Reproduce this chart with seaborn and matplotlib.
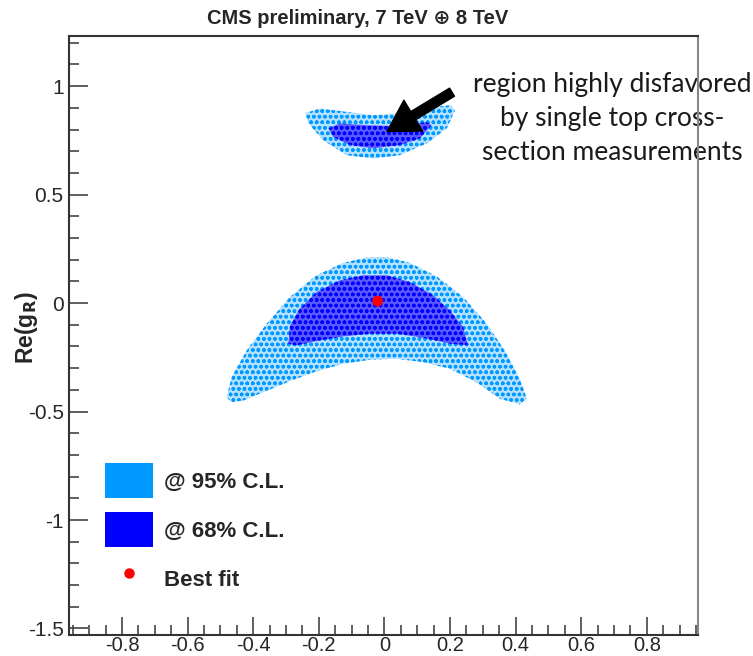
import numpy as np
import pandas as pd
import matplotlib
matplotlib.use("Agg")
import matplotlib.pyplot as plt
import seaborn as sns
from matplotlib.patches import Patch
from matplotlib.lines import Line2D
from matplotlib.ticker import MultipleLocator

# ---- contour boundaries in the (x, Re(gR)) plane ----
# 95% C.L. region around the best fit
main95_x = [-0.481, -0.466, -0.420, -0.359, -0.288, -0.207, -0.126, -0.054, 0.007,
            0.078, 0.159, 0.240, 0.312, 0.373, 0.413, 0.434, 0.413, 0.352, 0.281,
            0.200, 0.118, 0.037, -0.044, -0.126, -0.207, -0.288, -0.370, -0.430, -0.466]
main95_y = [-0.434, -0.341, -0.218, -0.095, 0.028, 0.128, 0.185, 0.210, 0.212,
            0.185, 0.123, 0.028, -0.095, -0.234, -0.349, -0.441, -0.467, -0.441, -0.365,
            -0.303, -0.272, -0.257, -0.261, -0.280, -0.314, -0.360, -0.411, -0.449, -0.457]

# 68% C.L. region around the best fit
main68_x = [-0.293, -0.288, -0.258, -0.207, -0.136, -0.065, 0.007, 0.078, 0.149,
            0.200, 0.240, 0.255, 0.200, 0.118, 0.037, -0.044, -0.126, -0.207, -0.268]
main68_y = [-0.187, -0.103, -0.026, 0.051, 0.105, 0.128, 0.128, 0.097, 0.036,
            -0.034, -0.111, -0.195, -0.187, -0.160, -0.141, -0.141, -0.154, -0.175, -0.195]

# secondary (disfavored) island
upper95_x = [-0.242, -0.197, -0.115, -0.034, 0.047, 0.118, 0.200, 0.215, 0.190,
             0.129, 0.047, -0.034, -0.115, -0.187, -0.232]
upper95_y = [0.875, 0.897, 0.881, 0.866, 0.875, 0.897, 0.912, 0.889, 0.805,
             0.736, 0.682, 0.666, 0.682, 0.751, 0.828]

upper68_x = [-0.171, -0.136, -0.054, 0.047, 0.129, 0.144, 0.108, 0.047, -0.034, -0.105, -0.156]
upper68_y = [0.805, 0.828, 0.820, 0.815, 0.835, 0.820, 0.759, 0.728, 0.713, 0.728, 0.766]

best_fit = pd.DataFrame({"x": [-0.021], "y": [0.009]})

arrow_tail = (0.206, 0.972)
arrow_tip = (0.008, 0.791)

x_major = [-0.8, -0.6, -0.4, -0.2, 0.0, 0.2, 0.4, 0.6, 0.8]
x_labels = ["-0.8", "-0.6", "-0.4", "-0.2", "0", "0.2", "0.4", "0.6", "0.8"]
y_major = [-1.5, -1.0, -0.5, 0.0, 0.5, 1.0]
y_labels = ["-1.5", "-1", "-0.5", "0", "0.5", "1"]

c95 = "#0099ff"
c68 = "#0000ff"
cbest = "#ff0000"

sns.set_theme(style="white")
plt.rcParams["font.family"] = ["Liberation Sans", "DejaVu Sans"]
plt.rcParams["hatch.linewidth"] = 1.0

W, H = 753, 656
fig = plt.figure(figsize=(W / 100, H / 100), dpi=100)
fig.patch.set_facecolor("white")
L, R, T, B = 69.3, 698.3, 36.0, 635.0
ax = fig.add_axes([L / W, 1 - B / H, (R - L) / W, (B - T) / H])
ax.set_facecolor("white")

def region(xs, ys, color, tint):
    # light tint plus a dense dotted hatch gives the speckled scan look
    ax.fill(xs, ys, facecolor=tint, edgecolor=color, hatch="ooo", linewidth=0, zorder=1)

region(main95_x, main95_y, c95, "#b3e0ff")
region(upper95_x, upper95_y, c95, "#b3e0ff")
region(main68_x, main68_y, c68, "#5a5aff")
region(upper68_x, upper68_y, c68, "#5a5aff")

sns.scatterplot(data=best_fit, x="x", y="y", ax=ax, color=cbest, s=60,
                edgecolor="none", zorder=4, legend=False)

ax.annotate("", xy=arrow_tip, xytext=arrow_tail,
            arrowprops=dict(arrowstyle="simple,head_length=1.1,head_width=1.3,tail_width=0.34",
                            mutation_scale=20, color="black", shrinkA=0, shrinkB=0),
            zorder=5)

ax.set_xlim(-0.961, 0.957)
ax.set_ylim(-1.53, 1.231)
ax.set_xticks(x_major, x_labels)
ax.set_yticks(y_major, y_labels)
ax.xaxis.set_minor_locator(MultipleLocator(0.05))
ax.yaxis.set_minor_locator(MultipleLocator(0.1))
ax.tick_params(axis="x", which="both", direction="in", bottom=True, top=False,
               labelsize=14.5, pad=1, color="#444444")
ax.tick_params(axis="y", which="both", direction="in", left=True, right=False,
               labelsize=15, pad=4, color="#444444")
ax.tick_params(axis="x", which="major", length=13, width=1.2)
ax.tick_params(axis="x", which="minor", length=7, width=1.2)
ax.tick_params(axis="y", which="major", length=14, width=1.2)
ax.tick_params(axis="y", which="minor", length=7, width=1.2)
ax.set_xlabel("")
ax.set_ylabel("Re(g$_{\\mathbf{R}}$)", fontsize=16.5, fontweight="bold")
ax.yaxis.set_label_coords(-0.047, 0.513)
for side, sp in ax.spines.items():
    sp.set_visible(True)
    sp.set_linewidth(1.5)
    sp.set_color("#333333" if side in ("left", "bottom", "top") else "#888888")

fig.text(358 / W, 1 - 18 / H, "CMS preliminary, 7 TeV \u2295 8 TeV", ha="center", va="center",
         fontsize=14.5, fontweight="bold", family=["Liberation Sans", "DejaVu Sans"])

ax.text(0.863, 0.862, "region highly disfavored\nby single top cross-\nsection measurements",
        transform=ax.transAxes, ha="center", va="center", fontsize=19, color="#1a1a1a",
        family=["Lato", "DejaVu Sans"], linespacing=1.45, clip_on=False, zorder=2)

handles = [Patch(facecolor=c95, edgecolor="none"),
           Patch(facecolor=c68, edgecolor="none"),
           Line2D([], [], marker="o", color=cbest, linestyle="none", markersize=6.5)]
labels = ["@ 95% C.L.", "@ 68% C.L.", "Best fit"]
ax.legend(handles, labels, loc="upper left", bbox_to_anchor=(0.0568, 0.2866),
          frameon=False, borderpad=0, borderaxespad=0, handlelength=2.17,
          handleheight=2.0, handletextpad=0.5, labelspacing=0.66,
          prop={"weight": "bold", "size": 16, "family": ["Liberation Sans", "DejaVu Sans"]})

fig.savefig("out.png", dpi=100)
